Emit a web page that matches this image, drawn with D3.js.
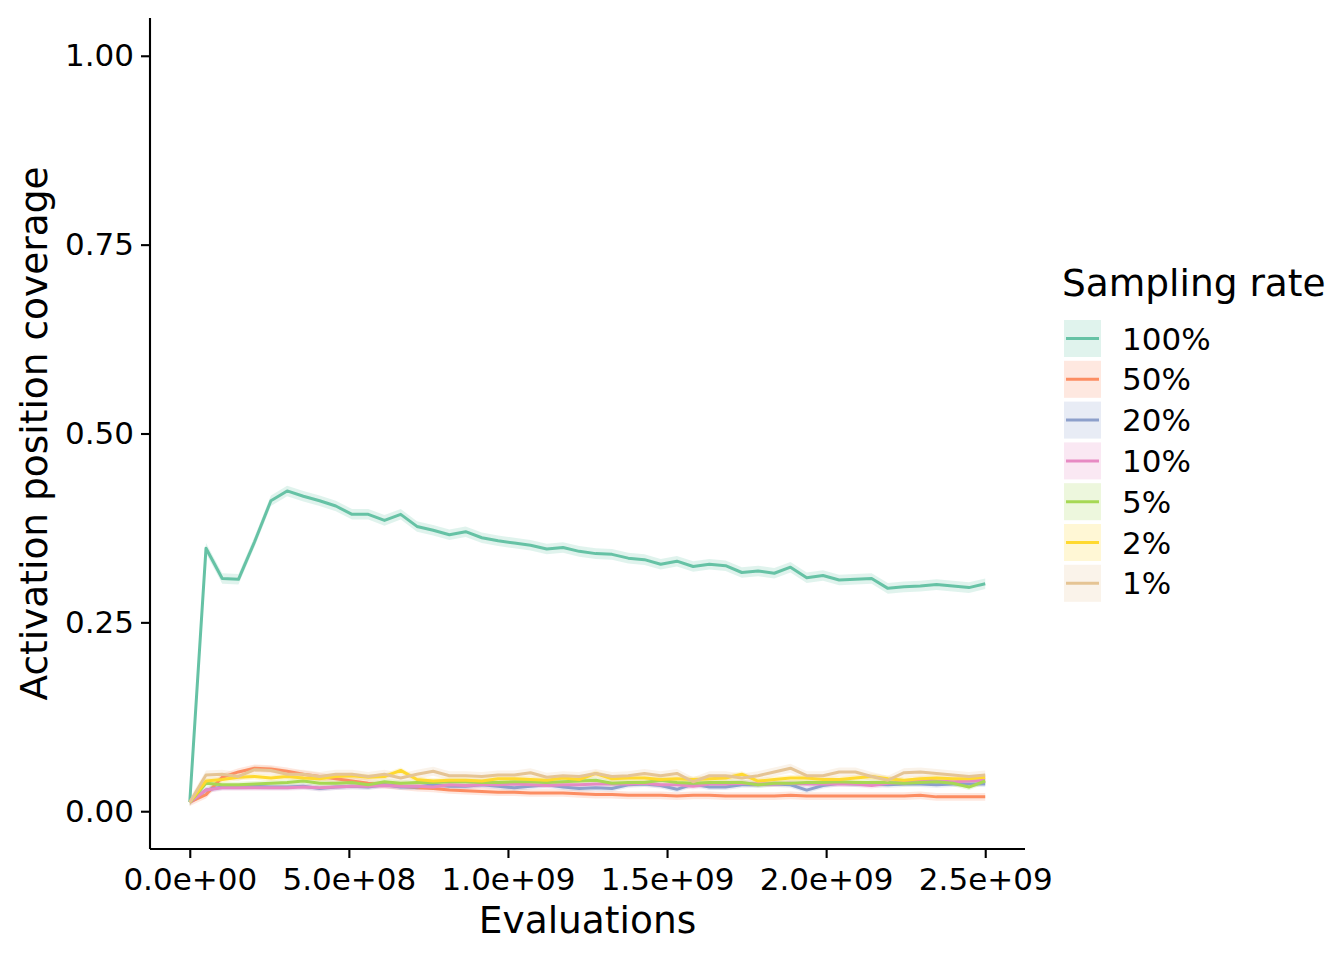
<!DOCTYPE html>
<html>
<head>
<meta charset="utf-8">
<script src="https://cdn.jsdelivr.net/npm/d3@7"></script>
<style>
  html, body { margin: 0; padding: 0; background: #fff; }
  svg { display: block; }
  text { font-family: "DejaVu Sans", sans-serif; fill: #000; }
</style>
</head>
<body>
<svg id="chart" width="1344" height="960"></svg>
<script>
// ---- data ----
const evaluations = [0, 51e6, 102e6, 153e6, 204e6, 255e6, 306e6, 357e6, 408e6, 459e6,
  510e6, 561e6, 612e6, 663e6, 714e6, 765e6, 816e6, 867e6, 918e6, 969e6,
  1020e6, 1071e6, 1122e6, 1173e6, 1224e6, 1276e6, 1327e6, 1378e6, 1429e6, 1480e6,
  1531e6, 1582e6, 1633e6, 1684e6, 1735e6, 1786e6, 1837e6, 1888e6, 1939e6, 1990e6,
  2041e6, 2092e6, 2143e6, 2194e6, 2245e6, 2296e6, 2347e6, 2398e6, 2449e6, 2500e6];

const rateLabels = ["100%", "50%", "20%", "10%", "5%", "2%", "1%"];
const rateColors = ["#66c2a5", "#fc8d62", "#8da0cb", "#e78ac3", "#a6d854", "#ffd92f", "#e5c494"];

const cov100 = [0.012, 0.348, 0.308, 0.307, 0.357, 0.411, 0.424, 0.417, 0.411, 0.404,
  0.393, 0.393, 0.385, 0.393, 0.377, 0.372, 0.366, 0.370, 0.362, 0.358,
  0.355, 0.352, 0.347, 0.349, 0.344, 0.341, 0.340, 0.335, 0.333, 0.327,
  0.331, 0.324, 0.327, 0.325, 0.316, 0.318, 0.315, 0.323, 0.309, 0.312,
  0.306, 0.307, 0.308, 0.295, 0.297, 0.298, 0.300, 0.298, 0.296, 0.301];
const cov50 = [0.012, 0.022, 0.045, 0.052, 0.057, 0.056, 0.053, 0.049, 0.046, 0.043,
  0.040, 0.037, 0.035, 0.033, 0.031, 0.030, 0.028, 0.027, 0.026, 0.025,
  0.025, 0.024, 0.024, 0.024, 0.023, 0.022, 0.022, 0.021, 0.021, 0.021,
  0.020, 0.021, 0.021, 0.020, 0.020, 0.020, 0.020, 0.021, 0.020, 0.020,
  0.020, 0.020, 0.020, 0.020, 0.020, 0.021, 0.019, 0.019, 0.019, 0.019];
const cov20 = [0.012, 0.028, 0.032, 0.032, 0.033, 0.032, 0.032, 0.033, 0.030, 0.032,
  0.033, 0.032, 0.035, 0.032, 0.032, 0.035, 0.033, 0.033, 0.035, 0.033,
  0.031, 0.033, 0.035, 0.032, 0.030, 0.031, 0.030, 0.035, 0.036, 0.034,
  0.029, 0.036, 0.032, 0.032, 0.035, 0.035, 0.036, 0.035, 0.028, 0.034,
  0.037, 0.036, 0.036, 0.035, 0.036, 0.036, 0.035, 0.036, 0.036, 0.036];
const cov10 = [0.012, 0.028, 0.031, 0.031, 0.031, 0.031, 0.031, 0.032, 0.031, 0.032,
  0.033, 0.033, 0.034, 0.033, 0.033, 0.032, 0.035, 0.034, 0.035, 0.035,
  0.036, 0.035, 0.034, 0.035, 0.035, 0.036, 0.036, 0.036, 0.037, 0.035,
  0.035, 0.033, 0.036, 0.036, 0.037, 0.036, 0.036, 0.037, 0.036, 0.036,
  0.036, 0.036, 0.034, 0.037, 0.038, 0.042, 0.040, 0.039, 0.040, 0.041];
const cov5 = [0.012, 0.037, 0.035, 0.035, 0.036, 0.037, 0.038, 0.040, 0.037, 0.037,
  0.038, 0.035, 0.039, 0.037, 0.038, 0.038, 0.039, 0.039, 0.038, 0.038,
  0.039, 0.039, 0.038, 0.039, 0.040, 0.041, 0.037, 0.038, 0.038, 0.041,
  0.038, 0.037, 0.038, 0.038, 0.038, 0.035, 0.037, 0.037, 0.038, 0.038,
  0.039, 0.038, 0.038, 0.038, 0.037, 0.038, 0.039, 0.037, 0.032, 0.040];
const cov2 = [0.012, 0.040, 0.042, 0.045, 0.046, 0.044, 0.046, 0.044, 0.043, 0.046,
  0.047, 0.045, 0.046, 0.054, 0.042, 0.040, 0.041, 0.041, 0.040, 0.043,
  0.043, 0.042, 0.041, 0.044, 0.042, 0.050, 0.043, 0.044, 0.044, 0.042,
  0.043, 0.042, 0.043, 0.044, 0.049, 0.040, 0.042, 0.044, 0.044, 0.042,
  0.042, 0.044, 0.046, 0.043, 0.041, 0.043, 0.044, 0.043, 0.043, 0.045];
const cov1 = [0.012, 0.048, 0.049, 0.046, 0.055, 0.054, 0.049, 0.049, 0.046, 0.049,
  0.049, 0.046, 0.049, 0.044, 0.049, 0.053, 0.047, 0.047, 0.046, 0.048,
  0.048, 0.051, 0.045, 0.047, 0.046, 0.050, 0.046, 0.047, 0.050, 0.047,
  0.050, 0.039, 0.047, 0.047, 0.044, 0.047, 0.052, 0.057, 0.047, 0.047,
  0.052, 0.052, 0.046, 0.041, 0.051, 0.052, 0.050, 0.048, 0.046, 0.048];

// half-width of the shaded confidence band, per series
const bandHalfWidth = [0.007, 0.005, 0.004, 0.004, 0.004, 0.004, 0.006];

const yTicks = [0, 0.25, 0.5, 0.75, 1.0];
const xTicks = [0, 5e8, 1e9, 1.5e9, 2e9, 2.5e9];

const xTitle = "Evaluations";
const yTitle = "Activation position coverage";
const legendTitle = "Sampling rate";

// ---- build ----
const seriesValues = [cov100, cov50, cov20, cov10, cov5, cov2, cov1];
const series = rateLabels.map((lab, k) => ({
  label: lab,
  color: rateColors[k],
  hw: bandHalfWidth[k],
  pts: evaluations.map((e, i) => ({ x: e, y: seriesValues[k][i] }))
}));

const svg = d3.select("#chart");
svg.append("rect").attr("width", 1344).attr("height", 960).attr("fill", "#fff");

const panel = { left: 150, right: 1025, top: 18, bottom: 849 };

const x = d3.scaleLinear().domain([-1.25e8, 2.625e9]).range([panel.left, panel.right]);
const y = d3.scaleLinear().domain([-0.05, 1.05]).range([panel.bottom, panel.top]);

const TICK_FONT = 31;
const TITLE_FONT = 37.5;
const LINE_W = 3;

// ribbons first (all groups), then lines
const area = d3.area().x(d => x(d.x)).y0(d => y(d.y - d.hw)).y1(d => y(d.y + d.hw));
const line = d3.line().x(d => x(d.x)).y(d => y(d.y));

const gBands = svg.append("g");
series.forEach(s => {
  gBands.append("path")
    .datum(s.pts.map(p => ({ x: p.x, y: p.y, hw: s.hw })))
    .attr("d", area)
    .attr("fill", s.color)
    .attr("fill-opacity", 0.2);
});
const gLines = svg.append("g");
series.forEach(s => {
  gLines.append("path")
    .datum(s.pts)
    .attr("d", line)
    .attr("fill", "none")
    .attr("stroke", s.color)
    .attr("stroke-width", LINE_W)
    .attr("stroke-linejoin", "round");
});

// axes
const fmtX = d => d3.format(".1e")(d).replace(/e([+-])(\d)$/, "e$10$2");
const xAxis = d3.axisBottom(x).tickValues(xTicks).tickSize(9).tickSizeOuter(0).tickPadding(10).tickFormat(fmtX);
const yAxis = d3.axisLeft(y).tickValues(yTicks).tickSize(9).tickSizeOuter(0).tickPadding(7).tickFormat(d3.format(".2f"));

const gx = svg.append("g").attr("transform", `translate(0,${panel.bottom})`).call(xAxis);
const gy = svg.append("g").attr("transform", `translate(${panel.left},0)`).call(yAxis);

[gx, gy].forEach(g => {
  g.select(".domain").attr("stroke", "#000").attr("stroke-width", 2.1);
  g.selectAll(".tick line").attr("stroke", "#000").attr("stroke-width", 2.1);
  g.selectAll(".tick text")
    .attr("font-family", "DejaVu Sans, sans-serif")
    .attr("font-size", TICK_FONT)
    .attr("fill", "#000");
});
gx.select(".domain").attr("d", `M${panel.left},0H${panel.right}`);
gy.select(".domain").attr("d", `M0,${panel.top}V${panel.bottom}`);

// axis titles
svg.append("text")
  .attr("x", (panel.left + panel.right) / 2)
  .attr("y", 933)
  .attr("text-anchor", "middle")
  .attr("font-size", TITLE_FONT)
  .text(xTitle);

svg.append("text")
  .attr("transform", `translate(47,${(panel.top + panel.bottom) / 2}) rotate(-90)`)
  .attr("text-anchor", "middle")
  .attr("font-size", TITLE_FONT)
  .text(yTitle);

// legend
const lg = svg.append("g");
lg.append("text")
  .attr("x", 1062)
  .attr("y", 296)
  .attr("font-size", TITLE_FONT)
  .text(legendTitle);

const keyTop = 320, keyStep = 40.8, keySize = 37, keyX = 1064;
series.forEach((s, k) => {
  const ky = keyTop + k * keyStep;
  lg.append("rect")
    .attr("x", keyX).attr("y", ky)
    .attr("width", keySize).attr("height", keySize)
    .attr("fill", s.color).attr("fill-opacity", 0.2);
  lg.append("line")
    .attr("x1", keyX + 2).attr("x2", keyX + keySize - 2)
    .attr("y1", ky + keySize / 2).attr("y2", ky + keySize / 2)
    .attr("stroke", s.color).attr("stroke-width", LINE_W);
  lg.append("text")
    .attr("x", 1122)
    .attr("y", ky + keySize / 2)
    .attr("dy", "0.36em")
    .attr("font-size", TICK_FONT)
    .text(s.label);
});
</script>
</body>
</html>
